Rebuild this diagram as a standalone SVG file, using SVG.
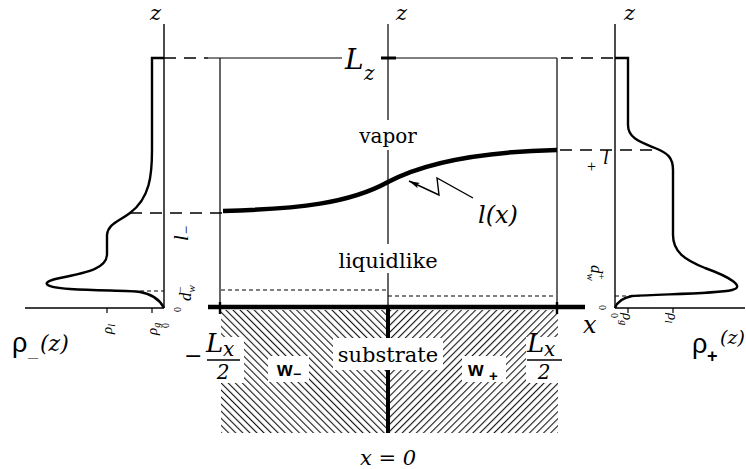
<svg xmlns="http://www.w3.org/2000/svg" width="746" height="469" viewBox="0 0 746 469">
<style>
.ax{stroke:#000;stroke-width:1.4;fill:none}
.thin{stroke:#000;stroke-width:1.2;fill:none}
.dash{stroke:#000;stroke-width:1.4;fill:none;stroke-dasharray:12 8}
.fdash{stroke:#000;stroke-width:1.1;fill:none;stroke-dasharray:4 3}
.prof{stroke:#000;stroke-width:2.4;fill:none}
.thick{stroke:#000;stroke-width:4.5;fill:none}
.serif{font-family:"DejaVu Serif","Liberation Serif",serif;fill:#000}
.it{font-family:"DejaVu Serif","Liberation Serif",serif;font-style:italic;fill:#000}
.sans{font-family:"Liberation Sans","DejaVu Sans",sans-serif;fill:#000}
.sm{font-family:"Liberation Serif",serif;fill:#000}
.smi{font-family:"Liberation Serif",serif;font-style:italic;fill:#000}
</style>
<defs>
<pattern id="hl" patternUnits="userSpaceOnUse" width="5" height="5" patternTransform="rotate(-45)">
<line x1="0.6" y1="0" x2="0.6" y2="5" stroke="#000" stroke-width="1"/>
</pattern>
<pattern id="hr" patternUnits="userSpaceOnUse" width="5" height="5" patternTransform="rotate(45)">
<line x1="0.6" y1="0" x2="0.6" y2="5" stroke="#000" stroke-width="1"/>
</pattern>
<marker id="ah" markerWidth="12" markerHeight="8" refX="11" refY="4" orient="auto" markerUnits="userSpaceOnUse">
<path d="M0,1 L11,4 L0,7 L2.5,4 Z" fill="#000"/>
</marker>
</defs>
<rect width="746" height="469" fill="#fff"/>

<g id="substrate">
<rect x="221" y="310" width="167" height="123" fill="url(#hl)"/>
<rect x="388" y="310" width="170" height="123" fill="url(#hr)"/>
<rect x="219" y="337" width="25" height="46" fill="#fff"/>
<rect x="268" y="356" width="41" height="26" fill="#fff"/>
<rect x="333" y="338" width="110" height="32" fill="#fff"/>
<rect x="462" y="356" width="44" height="26" fill="#fff"/>
<rect x="526" y="337" width="33" height="46" fill="#fff"/>
<line class="thick" x1="208" y1="307" x2="585" y2="307"/>
<line x1="388" y1="307" x2="388" y2="338" stroke="#000" stroke-width="4"/>
<line x1="388" y1="370" x2="388" y2="433" stroke="#000" stroke-width="4"/>
<text class="serif" x="388" y="362" font-size="21" text-anchor="middle">substrate</text>
<text class="sans" x="277" y="376" font-size="20" font-weight="bold">w</text>
<text class="sans" x="293" y="379" font-size="14" font-weight="bold">−</text>
<text class="sans" x="468" y="376" font-size="20" font-weight="bold">w</text>
<text class="sans" x="489" y="381" font-size="15" font-weight="bold">+</text>
</g>

<g id="box">
<line class="dash" x1="164" y1="58" x2="208" y2="58"/>
<line class="thin" x1="208" y1="58" x2="342" y2="58"/>
<line class="thin" x1="396" y1="58" x2="557" y2="58"/>
<line x1="381" y1="58" x2="396" y2="58" stroke="#000" stroke-width="3"/>
<line class="dash" x1="561" y1="58" x2="615" y2="58"/>
<line class="thin" x1="220" y1="58" x2="220" y2="310"/>
<line class="thin" x1="557" y1="58" x2="557" y2="310"/>
<line x1="220" y1="302" x2="220" y2="314" stroke="#000" stroke-width="2.4"/>
<line x1="557" y1="302" x2="557" y2="314" stroke="#000" stroke-width="2.4"/>
<line class="thin" x1="388" y1="24" x2="388" y2="120"/>
<line class="thin" x1="388" y1="150" x2="388" y2="244"/>
<line class="thin" x1="388" y1="273" x2="388" y2="308"/>
<line class="fdash" x1="221" y1="290" x2="388" y2="290"/>
<line class="fdash" x1="388" y1="296" x2="556" y2="296"/>
<line class="dash" x1="130" y1="213" x2="222" y2="213"/>
<line class="dash" x1="560" y1="150" x2="655" y2="150"/>
<path d="M223,211 C300,209 350,203 388,182 C420,165 470,152 557,150" stroke="#000" stroke-width="4.5" fill="none"/>
<text class="it" x="396" y="20" font-size="21">z</text>
<text class="it" x="345" y="69" font-size="28">L</text>
<text class="it" x="364" y="80" font-size="20">z</text>
<text class="serif" x="388" y="143" font-size="20" text-anchor="middle">vapor</text>
<text class="serif" x="388" y="268" font-size="21" text-anchor="middle">liquidlike</text>
<text class="it" x="478" y="223" font-size="24">l(x)</text>
<text class="it" x="583" y="333" font-size="24">x</text>
<text class="it" x="388" y="465" font-size="21" text-anchor="middle">x = 0</text>
<text class="serif" x="184" y="363" font-size="22">−</text>
<text class="it" x="206" y="352" font-size="26">L</text>
<text class="it" x="223" y="356" font-size="20">x</text>
<line x1="207" y1="360" x2="240" y2="360" stroke="#000" stroke-width="1.3"/>
<text class="it" x="223" y="379" font-size="20" text-anchor="middle">2</text>
<text class="it" x="527" y="352" font-size="26">L</text>
<text class="it" x="544" y="356" font-size="20">x</text>
<line x1="527" y1="360" x2="562" y2="360" stroke="#000" stroke-width="1.3"/>
<text class="it" x="544" y="379" font-size="20" text-anchor="middle">2</text>
</g>

<g id="left-profile">
<line class="ax" x1="164" y1="24" x2="164" y2="308"/>
<line class="ax" x1="25" y1="308" x2="164" y2="308"/>
<line class="thin" x1="107" y1="308" x2="107" y2="313"/>
<line class="thin" x1="152" y1="308" x2="152" y2="313"/>
<path class="prof" d="M164,58 L152,58 L152,150 C152,175 150,198 130,213 C118,222 108,224 107,235 L107,255 C106,268 90,272 60,278 C40,282 42,287 70,289 C100,291 130,290 140,292 C152,294 160,300 164,308"/>
<line class="fdash" x1="140" y1="291" x2="164" y2="291"/>
<text class="it" x="150" y="20" font-size="21">z</text>
<text class="sans" x="12" y="352" font-size="27">ρ</text>
<text class="sans" x="28" y="357" font-size="18" font-weight="bold">_</text>
<text class="it" x="40" y="351" font-size="22">(z)</text>
<text class="smi" transform="translate(188,241) rotate(-90)" font-size="21">l<tspan font-size="15" dy="3">−</tspan></text>
<text class="smi" transform="translate(191,301) rotate(-90)" font-size="17">d<tspan font-size="11" dy="4">w</tspan><tspan font-size="11" dx="-8" dy="-11">−</tspan></text>
<text class="sm" transform="translate(181,312) rotate(-90)" font-size="10">0</text>
<text class="smi" transform="translate(112,334) rotate(-90)" font-size="15">ρ<tspan font-size="10" dy="3">l</tspan></text>
<text class="smi" transform="translate(157,335) rotate(-90)" font-size="15">ρ<tspan font-size="10" dy="3">g</tspan></text>
<text class="sm" transform="translate(169,328) rotate(-90)" font-size="10">0</text>
</g>

<g id="right-profile">
<line class="ax" x1="615" y1="24" x2="615" y2="308"/>
<line class="ax" x1="615" y1="308" x2="745" y2="308"/>
<line class="thin" x1="628" y1="308" x2="628" y2="313"/>
<line class="thin" x1="673" y1="308" x2="673" y2="313"/>
<path class="prof" d="M615,58 L628,58 L628,125 C628,138 640,142 655,148 C668,153 673,158 673,170 L673,235 C673,252 685,260 705,268 C730,277 746,287 732,290 C715,294 660,294 632,296 C622,298 617,302 615,308"/>
<line class="fdash" x1="615" y1="296" x2="640" y2="296"/>
<text class="it" x="624" y="20" font-size="21">z</text>
<text class="sans" x="692" y="353" font-size="27">ρ</text>
<text class="sans" x="707" y="362" font-size="18" font-weight="bold">+</text>
<text class="it" x="720" y="344" font-size="19">(z)</text>
<text class="smi" x="603" y="164" font-size="20">l</text>
<text class="sm" x="587" y="172" font-size="16">+</text>
<text class="smi" transform="translate(591,265) rotate(90)" font-size="17">d<tspan font-size="11" dy="4">w</tspan><tspan font-size="11" dx="-8" dy="-11">+</tspan></text>
<text class="sm" transform="translate(599,305) rotate(90)" font-size="10">0</text>
<text class="smi" transform="translate(668,313) rotate(90)" font-size="15">ρ<tspan font-size="10" dy="3">l</tspan></text>
<text class="smi" transform="translate(623,313) rotate(90)" font-size="15">ρ<tspan font-size="10" dy="3">g</tspan></text>
<text class="sm" transform="translate(611,313) rotate(90)" font-size="10">0</text>
</g>

<g id="connectors">
<path d="M473,198 L437,178 L439,195 L409,181" stroke="#000" stroke-width="1.4" fill="none" marker-end="url(#ah)"/>
</g>
</svg>
